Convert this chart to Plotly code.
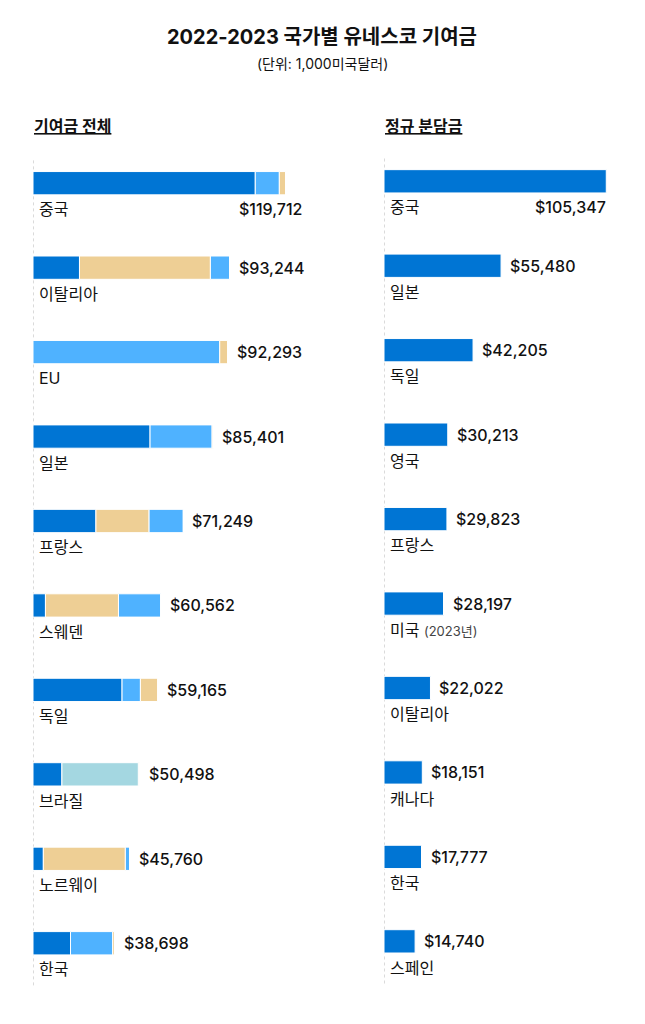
import plotly.graph_objects as go

FONT = "Inter, Noto Sans CJK KR, sans-serif"
# the page body keeps an 8px margin, so the figure is drawn 8px smaller and
# every pixel position below is given in window coordinates minus OFF
OFF = 8
FIG_W, FIG_H = 645 - OFF, 1024 - OFF

# ── Data: 기여금 전체 (left) ─────────────────────────────
total_countries = ["중국", "이탈리아", "EU", "일본", "프랑스", "스웨덴", "독일", "브라질", "노르웨이", "한국"]
total_values = [119712, 93244, 92293, 85401, 71249, 60562, 59165, 50498, 45760, 38698]
part_regular = [105347, 22022, 0, 55480, 29823, 5900, 42205, 13700, 4900, 17777]
part_light = [11400, 9222, 88500, 29400, 16326, 20062, 8700, 0, 2060, 20000]
part_tan = [2965, 62000, 3793, 521, 25100, 34600, 8260, 598, 38800, 921]
part_teal = [0, 0, 0, 0, 0, 0, 0, 36200, 0, 0]

# ── Data: 정규 분담금 (right) ────────────────────────────
regular_countries = ["중국", "일본", "독일", "영국", "프랑스", "미국", "이탈리아", "캐나다", "한국", "스페인"]
regular_notes = ["", "", "", "", "", "2023년", "", "", "", ""]
regular_values = [105347, 55480, 42205, 30213, 29823, 28197, 22022, 18151, 17777, 14740]

# ── Colours ──────────────────────────────────────────
C_DARK = "#0075d4"
C_LIGHT = "#4fb2ff"
C_TAN = "#eecf95"
C_TEAL = "#a4d7e1"
C_TEXT = "#111111"

# ── Geometry helpers (window pixels -> paper) ─────────
ROW_PX = 84.45
BAR_W = 23.3 / ROW_PX
X_MAX = 120000
PX_PER_UNIT = 2.11 / 1000
AX_W = X_MAX * PX_PER_UNIT


def px_y(y):
    return 1 - (y - OFF) / FIG_H


def px_x(x):
    return (x - OFF) / FIG_W


def y_layout(first_center, top=150, bottom=1000):
    lo = (top - first_center) / ROW_PX
    hi = 9 + (bottom - (first_center + 9 * ROW_PX)) / ROW_PX
    return dict(domain=[px_y(bottom), px_y(top)], range=[hi, lo],
                visible=False, fixedrange=True)


def x_layout(left_px):
    return dict(domain=[px_x(left_px), px_x(left_px + AX_W)],
                range=[0, X_MAX], visible=False, fixedrange=True)


rows = list(range(len(total_countries)))

# stack order: regular first, then the remaining parts largest-first
parts = {"tan": part_tan, "light": part_light, "teal": part_teal}
bases = {"regular": [0] * len(rows), "tan": [0] * len(rows),
         "light": [0] * len(rows), "teal": [0] * len(rows)}
for i in rows:
    acc = part_regular[i]
    for key in sorted(parts, key=lambda k: -parts[k][i]):
        bases[key][i] = acc
        acc += parts[key][i]

fig = go.Figure()

bar_line = dict(color="white", width=1)
for key, vals, col in [("regular", part_regular, C_DARK), ("light", part_light, C_LIGHT),
                       ("tan", part_tan, C_TAN), ("teal", part_teal, C_TEAL)]:
    fig.add_trace(go.Bar(
        x=vals, y=rows, base=bases[key], orientation="h", width=BAR_W,
        marker=dict(color=col, line=bar_line), xaxis="x", yaxis="y",
        showlegend=False, hoverinfo="skip",
    ))

fig.add_trace(go.Bar(
    x=regular_values, y=rows, orientation="h", width=BAR_W,
    marker=dict(color=C_DARK, line=bar_line), xaxis="x2", yaxis="y2",
    showlegend=False, hoverinfo="skip",
))

annotations = []
LABEL_DY = 0.31


def add_labels(names, values, xref, yref, notes=None, far_shift=17):
    for i, (name, val) in enumerate(zip(names, values)):
        txt = name
        if notes and notes[i]:
            txt += f" <span style='font-size:13px;color:#444'>({notes[i]})</span>"
        annotations.append(dict(
            x=0, y=i + LABEL_DY, xref=xref, yref=yref, text=txt, showarrow=False,
            xanchor="left", yanchor="middle", xshift=4,
            font=dict(size=16, color=C_TEXT, family=FONT)))
        money = f"${val:,}"
        if val > 100000:
            annotations.append(dict(
                x=val, y=i + LABEL_DY, xref=xref, yref=yref, text=money, showarrow=False,
                xanchor="right", yanchor="middle", xshift=far_shift,
                font=dict(size=16, color=C_TEXT, family=FONT, weight=500)))
        else:
            annotations.append(dict(
                x=val, y=i, xref=xref, yref=yref, text=money, showarrow=False,
                xanchor="left", yanchor="middle", xshift=7,
                font=dict(size=16, color=C_TEXT, family=FONT, weight=500)))


add_labels(total_countries, total_values, "x", "y", far_shift=18)
add_labels(regular_countries, regular_values, "x2", "y2", notes=regular_notes, far_shift=2)

# title, subtitle, section headings
annotations += [
    dict(x=px_x(322), y=px_y(37), xref="paper", yref="paper", showarrow=False,
         text="<b>2022-2023 국가별 유네스코 기여금</b>", xanchor="center", yanchor="middle",
         font=dict(size=20, color=C_TEXT, family=FONT)),
    dict(x=px_x(322), y=px_y(63), xref="paper", yref="paper", showarrow=False,
         text="(단위: 1,000미국달러)", xanchor="center", yanchor="middle",
         font=dict(size=14, color=C_TEXT, family=FONT)),
    dict(x=px_x(32), y=px_y(126), xref="paper", yref="paper", showarrow=False,
         text="<b><u>기여금 전체</u></b>", xanchor="left", yanchor="middle",
         font=dict(size=16, color=C_TEXT, family=FONT)),
    dict(x=px_x(383), y=px_y(126), xref="paper", yref="paper", showarrow=False,
         text="<b><u>정규 분담금</u></b>", xanchor="left", yanchor="middle",
         font=dict(size=16, color=C_TEXT, family=FONT)),
]

shapes = [
    dict(type="line", xref="x", yref="y", x0=0, x1=0, y0=-0.27, y1=9.53,
         line=dict(color="#b5b5b5", width=1, dash="dot"), layer="below"),
    dict(type="line", xref="x2", yref="y2", x0=0, x1=0, y0=-0.27, y1=9.53,
         line=dict(color="#b5b5b5", width=1, dash="dot"), layer="below"),
]

fig.update_layout(
    width=FIG_W, height=FIG_H,
    margin=dict(l=0, r=0, t=0, b=0),
    paper_bgcolor="white", plot_bgcolor="white",
    barmode="overlay",
    xaxis=x_layout(33), yaxis=y_layout(183.2),
    xaxis2=x_layout(384), yaxis2=y_layout(181.3, top=148, bottom=998),
    annotations=annotations, shapes=shapes,
    font=dict(family=FONT),
)

fig.write_html("out.html")
